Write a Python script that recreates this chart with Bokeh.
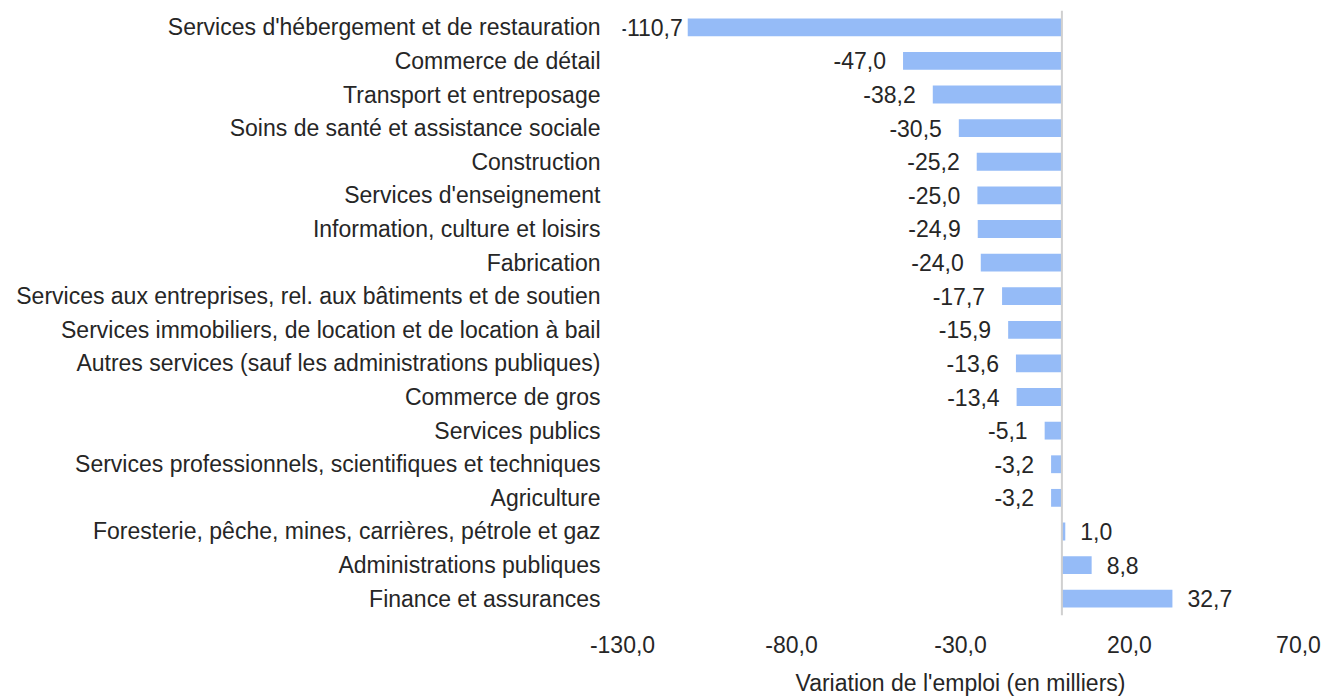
from bokeh.plotting import figure
from bokeh.models import FactorRange, ColumnDataSource, Span, FixedTicker, CustomJSTickFormatter
from bokeh.embed import file_html
from bokeh.resources import INLINE
from bokeh.core.properties import value

categories = [
    "Services d'hébergement et de restauration",
    "Commerce de détail",
    "Transport et entreposage",
    "Soins de santé et assistance sociale",
    "Construction",
    "Services d'enseignement",
    "Information, culture et loisirs",
    "Fabrication",
    "Services aux entreprises, rel. aux bâtiments et de soutien",
    "Services immobiliers, de location et de location à bail",
    "Autres services (sauf les administrations publiques)",
    "Commerce de gros",
    "Services publics",
    "Services professionnels, scientifiques et techniques",
    "Agriculture",
    "Foresterie, pêche, mines, carrières, pétrole et gaz",
    "Administrations publiques",
    "Finance et assurances",
]
values = [-110.7, -47.0, -38.2, -30.5, -25.2, -25.0, -24.9, -24.0, -17.7,
          -15.9, -13.6, -13.4, -5.1, -3.2, -3.2, 1.0, 8.8, 32.7]
x_ticks = [-130, -80, -30, 20, 70]

FONT = "Liberation Sans"
FS = "23px"
TXT = "#262626"

labels = [f"{v:.1f}".replace(".", ",") for v in values]
neg = [v for v in values if v < 0]
src_neg = ColumnDataSource(dict(
    y=[c for c, v in zip(categories, values) if v < 0],
    x=neg,
    lab=[l for l, v in zip(labels, values) if v < 0],
    off=[-5 if v < -100 else -17 for v in neg],
))
src_pos = ColumnDataSource(dict(
    y=[c for c, v in zip(categories, values) if v >= 0],
    x=[v for v in values if v >= 0],
    lab=[l for l, v in zip(labels, values) if v >= 0],
))
src = ColumnDataSource(dict(y=categories, x=values))

p = figure(width=1332, height=698, output_backend="svg", toolbar_location=None,
           y_range=FactorRange(factors=categories[::-1], range_padding=0),
           x_range=(-130, 70),
           min_border_left=622, min_border_right=34, min_border_top=10, min_border_bottom=82)
p.hbar(y="y", right="x", left=0, height=0.53, source=src, color="#95BBF7", line_color=None)

p.text(x="x", y="y", text="lab", source=src_neg, x_offset="off", text_align="right",
       text_baseline="middle", text_font=value(FONT), text_font_size=FS, text_color=TXT)
p.text(x="x", y="y", text="lab", source=src_pos, x_offset=15, text_align="left",
       text_baseline="middle", text_font=value(FONT), text_font_size=FS, text_color=TXT)

p.add_layout(Span(location=0, dimension="height", line_color="#D0D0D0", line_width=2))

p.xgrid.visible = False
p.ygrid.visible = False
p.outline_line_color = None

p.xaxis.ticker = FixedTicker(ticks=x_ticks)
p.xaxis.formatter = CustomJSTickFormatter(code="return tick.toFixed(1).replace('.', ',');")
p.xaxis.axis_line_color = None
p.xaxis.major_tick_line_color = None
p.xaxis.minor_tick_line_color = None
p.xaxis.major_label_standoff = 14
p.xaxis.axis_label = "Variation de l'emploi (en milliers)"
p.xaxis.axis_label_standoff = 14
p.xaxis.axis_label_text_font_style = "normal"

p.yaxis.axis_line_color = None
p.yaxis.major_tick_line_color = None
p.yaxis.minor_tick_line_color = None
p.yaxis.major_label_standoff = 16

for ax in (p.xaxis[0], p.yaxis[0]):
    ax.major_label_text_font = FONT
    ax.major_label_text_font_size = FS
    ax.major_label_text_color = TXT
    ax.axis_label_text_font = FONT
    ax.axis_label_text_font_size = FS
    ax.axis_label_text_color = TXT

open("out.html", "w").write(file_html(p, INLINE))
